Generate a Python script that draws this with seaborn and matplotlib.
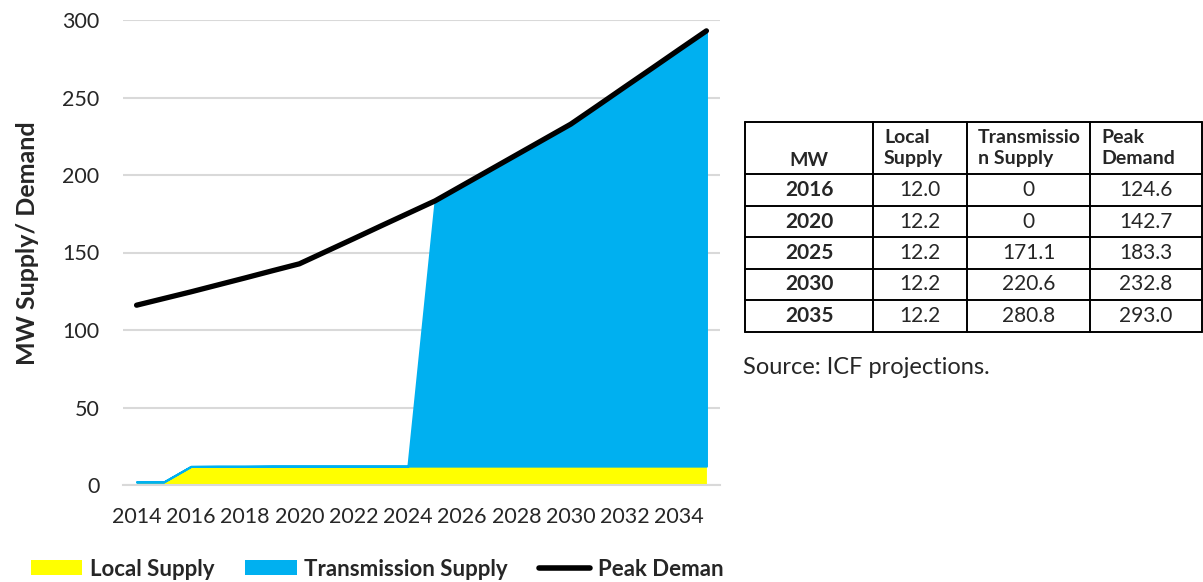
import matplotlib
matplotlib.use("Agg")
import matplotlib.pyplot as plt
import seaborn as sns
import pandas as pd
from matplotlib.patches import Patch
from matplotlib.lines import Line2D

# ---------------- data ----------------
years = [2014, 2015, 2016, 2017, 2018, 2019, 2020, 2021, 2022, 2023, 2024,
         2025, 2026, 2027, 2028, 2029, 2030, 2031, 2032, 2033, 2034, 2035]
local_supply = [2.0, 2.0, 12.0, 12.1, 12.1, 12.2, 12.2, 12.2, 12.2, 12.2, 12.2,
                12.2, 12.2, 12.2, 12.2, 12.2, 12.2, 12.2, 12.2, 12.2, 12.2, 12.2]
transmission_supply = [0, 0, 0, 0, 0, 0, 0, 0, 0, 0, 0,
                       171.1, 181.0, 190.9, 200.8, 210.7, 220.6,
                       232.6, 244.6, 256.7, 268.7, 280.8]
peak_demand = [116.0, 120.3, 124.6, 129.1, 133.6, 138.2, 142.7, 150.8, 158.9,
               167.1, 175.2, 183.3, 193.2, 203.1, 213.0, 222.9, 232.8,
               244.8, 256.9, 268.9, 281.0, 293.0]
x_ticks = [2014, 2016, 2018, 2020, 2022, 2024, 2026, 2028, 2030, 2032, 2034]
y_ticks = [0, 50, 100, 150, 200, 250, 300]

table_header = ["MW", "Local\nSupply", "Transmissio\nn Supply", "Peak\nDemand"]
table_years = ["2016", "2020", "2025", "2030", "2035"]
table_local = ["12.0", "12.2", "12.2", "12.2", "12.2"]
table_trans = ["0", "0", "171.1", "220.6", "280.8"]
table_peak = ["124.6", "142.7", "183.3", "232.8", "293.0"]

legend_labels = ["Local Supply", "Transmission Supply", "Peak Deman"]
y_label = "MW Supply/ Demand"
source_text = "Source: ICF projections."

# ---------------- style ----------------
sns.set_theme(style="white")
FONT = ["Lato", "DejaVu Sans"]
plt.rcParams["font.family"] = FONT

YELLOW = "#FFFF00"
BLUE = "#00B0F0"
GRID = "#D9D9D9"

df = pd.DataFrame({"year": years, "local": local_supply,
                   "trans": transmission_supply, "peak": peak_demand})
df["top"] = df["local"] + df["trans"]

fig = plt.figure(figsize=(12.03, 5.82), dpi=100)
W, H = 1203, 582
ax = fig.add_axes([123 / W, 1 - 485 / H, (720 - 123) / W, (485 - 20) / H])

ax.fill_between(df["year"], 0, df["local"], color=YELLOW, linewidth=0, zorder=2)
ax.fill_between(df["year"], df["local"], df["top"], facecolor=BLUE,
                edgecolor=BLUE, linewidth=1.5, zorder=2)
sns.lineplot(data=df, x="year", y="peak", ax=ax, color="black", linewidth=3.8,
             zorder=3, solid_capstyle="round")

ax.set_xlim(2013.5, 2035.5)
ax.set_ylim(0, 300)
ax.set_xticks(x_ticks)
ax.set_yticks(y_ticks)
ax.set_xticklabels([str(t) for t in x_ticks], fontsize=15.5)
ax.set_yticklabels([str(t) for t in y_ticks], fontsize=15.5)
ax.tick_params(axis="both", length=0)
ax.tick_params(axis="y", pad=17)
ax.tick_params(axis="x", pad=16)
ax.yaxis.grid(True, color=GRID, linewidth=1.5, zorder=0)
ax.set_axisbelow(True)
for s in ["top", "right", "left"]:
    ax.spines[s].set_visible(False)
ax.spines["bottom"].set_color(GRID)
ax.spines["bottom"].set_linewidth(1.5)
ax.set_xlabel("")
ax.set_ylabel(y_label, fontsize=18, fontweight="bold")
ax.yaxis.set_label_coords(-0.14, 0.52)

# legend
handles = [Patch(facecolor=YELLOW, edgecolor="none"),
           Patch(facecolor=BLUE, edgecolor="none"),
           Line2D([0], [0], color="black", linewidth=4, solid_capstyle="round")]
leg = fig.legend(handles, legend_labels, loc="center left",
                 bbox_to_anchor=(22 / W, 1 - 569 / H), ncol=3, frameon=False,
                 prop={"family": FONT, "weight": "bold", "size": 16},
                 handlelength=2.3, handleheight=0.62, handletextpad=0.35,
                 columnspacing=1.4, borderaxespad=0)

# ---------------- table (overlay in pixel coords) ----------------
ov = fig.add_axes([0, 0, 1, 1])
ov.set_xlim(0, W)
ov.set_ylim(H, 0)
ov.axis("off")
ov.patch.set_alpha(0)

col_edges = [745, 873, 967, 1090, 1202]
row_edges = [122, 174, 206, 237, 269, 300, 332]
lw = 1.4
for xe in col_edges:
    ov.plot([xe, xe], [row_edges[0], row_edges[-1]], color="black", lw=lw)
for ye in row_edges:
    ov.plot([col_edges[0], col_edges[-1]], [ye, ye], color="black", lw=lw)

# header
ov.text((col_edges[0] + col_edges[1]) / 2, 160, table_header[0], ha="center",
        va="center", fontsize=14, fontweight="bold")
for i in range(1, 4):
    ov.text(col_edges[i] + 11, 148, table_header[i], ha="left", va="center",
            fontsize=14, fontweight="bold", linespacing=1.25)

cols = [table_years, table_local, table_trans, table_peak]
for r in range(len(table_years)):
    yc = (row_edges[r + 1] + row_edges[r + 2]) / 2
    for c in range(4):
        xc = (col_edges[c] + col_edges[c + 1]) / 2
        ov.text(xc, yc, cols[c][r], ha="center", va="center", fontsize=15,
                fontweight="bold" if c == 0 else "normal")

ov.text(743, 368, source_text, ha="left", va="center", fontsize=17)

fig.savefig("out.png", dpi=100)
